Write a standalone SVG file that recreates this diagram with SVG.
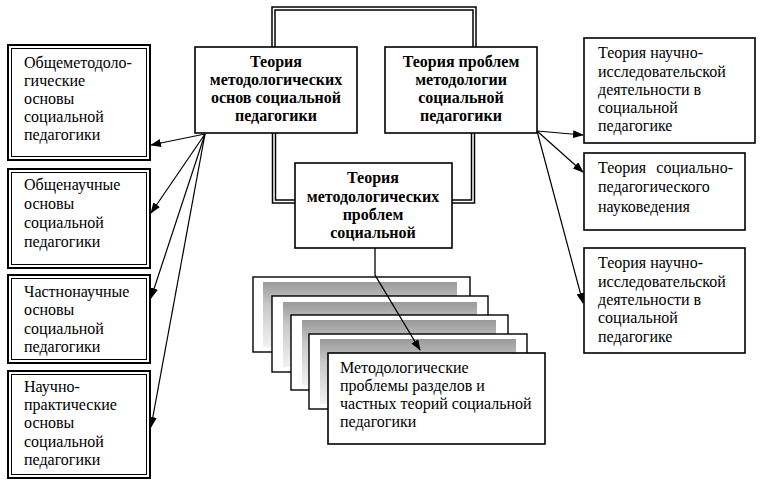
<svg xmlns="http://www.w3.org/2000/svg" width="768" height="486" viewBox="0 0 768 486">
<style>
.t{font-family:"Liberation Serif","Times New Roman",serif;font-size:16px;fill:#000}
.b{font-weight:bold;text-anchor:middle}
.box{fill:#fff;stroke:#000;stroke-width:1.6}
.outer{fill:#fff;stroke:#000;stroke-width:2}
.inner{fill:none;stroke:#000;stroke-width:1}
.dbl1{fill:none;stroke:#000;stroke-width:4.5}
.dbl2{fill:none;stroke:#fff;stroke-width:1.5}
.arr{fill:none;stroke:#000;stroke-width:1.2;marker-end:url(#ah)}
.back{fill:#fff;stroke:#000;stroke-width:1.4}
.gr{fill:url(#g)}
</style>
<defs>
<marker id="ah" markerWidth="11" markerHeight="8" refX="10" refY="4" orient="auto" markerUnits="userSpaceOnUse">
<path d="M0,0 L11,4 L0,8 Z" fill="#000"/>
</marker>
<linearGradient id="g" x1="0" y1="0" x2="0" y2="1">
<stop offset="0" stop-color="#9a9a9a"/>
<stop offset="0.35" stop-color="#c8c8c8"/>
<stop offset="1" stop-color="#f2f2f2"/>
</linearGradient>
</defs>
<g id="connectors">
<path class="dbl1" d="M273.5,47 V8.5 H474.5 V47"/>
<path class="dbl2" d="M273.5,47 V8.5 H474.5 V47"/>
<path class="dbl1" d="M274,133 V201.5 H295"/>
<path class="dbl2" d="M274,133 V201.5 H295"/>
<path class="dbl1" d="M473,133 V201.5 H452"/>
<path class="dbl2" d="M473,133 V201.5 H452"/>
<path class="arr" d="M205,134 L151,145"/>
<path class="arr" d="M205,134 L151,213"/>
<path class="arr" d="M205,134 L151,298"/>
<path class="arr" d="M205,134 L151,427"/>
<path class="arr" d="M537,131 L583,135"/>
<path class="arr" d="M537,131 L583,172"/>
<path class="arr" d="M537,131 L583,303"/>
</g>
<g id="left1">
<rect class="outer" x="8" y="45" width="142" height="115"/>
<rect class="inner" x="11.5" y="48.5" width="135" height="108"/>
<text class="t" x="24" y="68">Общеметодоло-</text>
<text class="t" x="24" y="86">гические</text>
<text class="t" x="24" y="104">основы</text>
<text class="t" x="24" y="122">социальной</text>
<text class="t" x="24" y="140">педагогики</text>
</g>
<g id="left2">
<rect class="outer" x="8" y="169" width="142" height="99"/>
<rect class="inner" x="11.5" y="172.5" width="135" height="92"/>
<text class="t" x="24" y="190">Общенаучные</text>
<text class="t" x="24" y="209">основы</text>
<text class="t" x="24" y="228">социальной</text>
<text class="t" x="24" y="247">педагогики</text>
</g>
<g id="left3">
<rect class="outer" x="8" y="275" width="142" height="88"/>
<rect class="inner" x="11.5" y="278.5" width="135" height="81"/>
<text class="t" x="24" y="297">Частнонаучные</text>
<text class="t" x="24" y="315">основы</text>
<text class="t" x="24" y="334">социальной</text>
<text class="t" x="24" y="352">педагогики</text>
</g>
<g id="left4">
<rect class="outer" x="8" y="371" width="142" height="107"/>
<rect class="inner" x="11.5" y="374.5" width="135" height="100"/>
<text class="t" x="24" y="392">Научно-</text>
<text class="t" x="24" y="410">практические</text>
<text class="t" x="24" y="428">основы</text>
<text class="t" x="24" y="447">социальной</text>
<text class="t" x="24" y="465">педагогики</text>
</g>
<g id="top1">
<rect class="box" x="195" y="47" width="162" height="86"/>
<text class="t b" x="276" y="67">Теория</text>
<text class="t b" x="276" y="85">методологических</text>
<text class="t b" x="276" y="103">основ социальной</text>
<text class="t b" x="276" y="121">педагогики</text>
</g>
<g id="top2">
<rect class="box" x="385" y="47" width="152" height="86"/>
<text class="t b" x="461" y="67">Теория проблем</text>
<text class="t b" x="461" y="85">методологии</text>
<text class="t b" x="461" y="103">социальной</text>
<text class="t b" x="461" y="121">педагогики</text>
</g>
<g id="center">
<rect class="box" x="295" y="163" width="157" height="85"/>
<text class="t b" x="373" y="183">Теория</text>
<text class="t b" x="373" y="202">методологических</text>
<text class="t b" x="373" y="220">проблем</text>
<text class="t b" x="373" y="238">социальной</text>
</g>
<g id="stack">
<rect class="back" x="253" y="277" width="217" height="75"/>
<rect class="gr" x="263" y="282" width="194" height="65"/>
<rect class="back" x="272" y="296" width="216" height="76"/>
<rect class="gr" x="283" y="302" width="194" height="65"/>
<rect class="back" x="291" y="315" width="217" height="75"/>
<rect class="gr" x="302" y="320" width="194" height="65"/>
<rect class="back" x="309" y="334" width="218" height="75"/>
<rect class="gr" x="320" y="339" width="196" height="65"/>
</g>
<g id="stackline">
<path d="M375,248 V275 L420,350" fill="none" stroke="#000" stroke-width="1.3" marker-end="url(#ah)"/>
</g>
<g id="front">
<rect class="box" x="328" y="353" width="217" height="91"/>
<text class="t" x="340" y="373">Методологические</text>
<text class="t" x="340" y="391">проблемы разделов и</text>
<text class="t" x="340" y="409">частных теорий социальной</text>
<text class="t" x="340" y="427">педагогики</text>
</g>
<g id="right1">
<rect class="box" x="584" y="38" width="171" height="105"/>
<text class="t" x="598" y="58">Теория научно-</text>
<text class="t" x="598" y="77">исследовательской</text>
<text class="t" x="598" y="95">деятельности в</text>
<text class="t" x="598" y="113">социальной</text>
<text class="t" x="598" y="131">педагогике</text>
</g>
<g id="right2">
<rect class="box" x="584" y="153" width="161" height="77"/>
<text class="t" x="598" y="173">Теория</text>
<text class="t" x="733" y="173" text-anchor="end">социально-</text>
<text class="t" x="598" y="192">педагогического</text>
<text class="t" x="598" y="212">науковедения</text>
</g>
<g id="right3">
<rect class="box" x="584" y="248" width="161" height="105"/>
<text class="t" x="598" y="268">Теория научно-</text>
<text class="t" x="598" y="287">исследовательской</text>
<text class="t" x="598" y="305">деятельности в</text>
<text class="t" x="598" y="323">социальной</text>
<text class="t" x="598" y="342">педагогике</text>
</g>
</svg>
